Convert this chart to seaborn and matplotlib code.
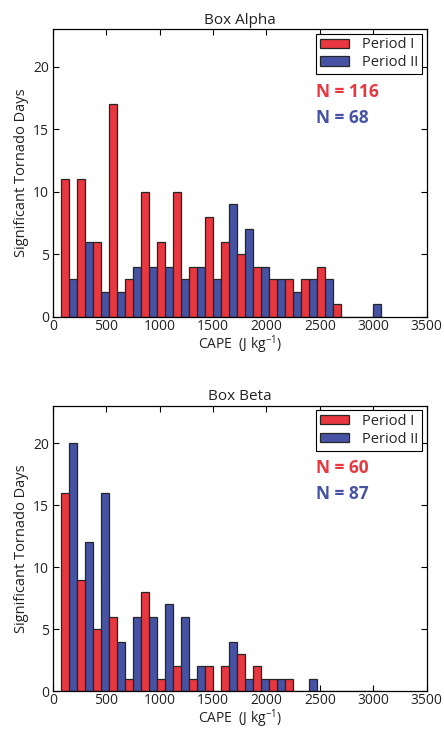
import numpy as np
import pandas as pd
import matplotlib
matplotlib.use('Agg')
import matplotlib.pyplot as plt
from matplotlib.patches import Patch
import seaborn as sns

# ==========================================
# DATA
# ==========================================
bin_centers = [150, 300, 450, 600, 750, 900, 1050, 1200, 1350, 1500,
               1650, 1800, 1950, 2100, 2250, 2400, 2550, 2700, 2850, 3000]

alpha_p1 = [11, 11, 6, 17, 3, 10, 6, 10, 4, 8, 6, 5, 4, 3, 3, 3, 4, 1, 0, 0]
alpha_p2 = [3, 6, 2, 2, 4, 4, 4, 3, 4, 3, 9, 7, 4, 3, 2, 3, 3, 0, 0, 1]

beta_p1 = [16, 9, 5, 6, 1, 8, 1, 2, 1, 2, 2, 3, 2, 1, 1, 0, 0, 0, 0, 0]
beta_p2 = [20, 12, 16, 4, 6, 6, 7, 6, 2, 0, 4, 1, 1, 1, 0, 1, 0, 0, 0, 0]

periods = ['Period I', 'Period II']
n_alpha = [116, 68]
n_beta = [60, 87]

RED = '#e8373f'
BLUE = '#4653a5'
palette = {'Period I': RED, 'Period II': BLUE}

sns.set_style('ticks')
plt.rcParams['font.family'] = ['Open Sans', 'DejaVu Sans']
plt.rcParams['mathtext.fontset'] = 'custom'
plt.rcParams['mathtext.rm'] = 'Open Sans'
plt.rcParams['mathtext.it'] = 'Open Sans'


def make_frame(p1, p2):
    return pd.DataFrame({
        'cape': bin_centers * 2,
        'days': p1 + p2,
        'period': ['Period I'] * len(p1) + ['Period II'] * len(p2),
    })


fig = plt.figure(figsize=(4.44, 7.31), dpi=100)
ax_top = fig.add_axes([0.1194, 0.5670, 0.8414, 0.3929])
ax_bot = fig.add_axes([0.1194, 0.0545, 0.8414, 0.3902])

panels = [(ax_top, 'Box Alpha', alpha_p1, alpha_p2, n_alpha),
          (ax_bot, 'Box Beta', beta_p1, beta_p2, n_beta)]

for ax, title, p1, p2, ns in panels:
    df = make_frame(p1, p2)
    sns.histplot(data=df, x='cape', weights='days', hue='period',
                 hue_order=periods, palette=palette,
                 binwidth=150, binrange=(75, 3075),
                 multiple='dodge', shrink=1.0, alpha=1.0,
                 edgecolor='#262626', linewidth=0.9, legend=False, ax=ax)

    ax.set_xlim(0, 3500)
    ax.set_ylim(0, 23)
    ax.set_xticks(range(0, 3501, 500))
    ax.set_yticks([0, 5, 10, 15, 20])
    ax.tick_params(direction='in', top=True, right=True, length=4,
                   width=0.8, labelsize=10, colors='black',
                   labelcolor='#222222')
    ax.tick_params(axis='x', pad=1.5)
    ax.tick_params(axis='y', pad=3)
    for sp in ax.spines.values():
        sp.set_visible(True)
        sp.set_linewidth(0.9)
        sp.set_color('black')

    ax.set_title(title, fontsize=11, pad=4, color='#222222')
    ax.set_xlabel('CAPE  (J kg$^{-1}$)', fontsize=10, labelpad=-0.5,
                  color='#222222')
    ax.set_ylabel('Significant Tornado Days', fontsize=10.5, labelpad=3,
                  color='#222222')

    handles = [Patch(facecolor=palette[p], edgecolor='#262626', linewidth=0.9)
               for p in periods]
    leg = ax.legend(handles, periods, loc='upper right', fontsize=10.5,
                    frameon=True, fancybox=False, framealpha=1,
                    edgecolor='black', borderpad=0.25, handlelength=2.0,
                    handleheight=0.6, handletextpad=0.9, labelspacing=0.2,
                    borderaxespad=0.3)
    leg.get_frame().set_linewidth(0.8)

    ax.text(0.704, 0.783, f'N = {ns[0]}', transform=ax.transAxes,
            color=RED, fontsize=12.5, fontweight='bold', va='center')
    ax.text(0.704, 0.692, f'N = {ns[1]}', transform=ax.transAxes,
            color=BLUE, fontsize=12.5, fontweight='bold', va='center')

fig.savefig('out.png', dpi=100)
